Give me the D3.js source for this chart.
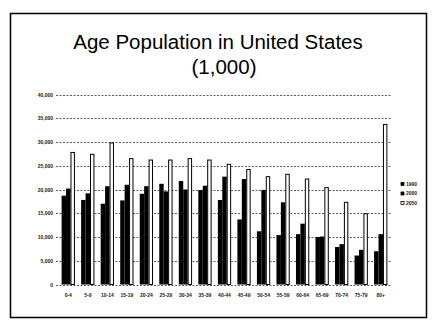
<!DOCTYPE html>
<html>
<head>
<meta charset="utf-8">
<script src="https://cdn.jsdelivr.net/npm/d3@7"></script>
<style>
  html, body { margin: 0; padding: 0; background: #fff; }
  svg { display: block; }
</style>
</head>
<body>
<svg id="chart" width="437" height="330"></svg>
<script>
// Age groups on the x axis
const ageGroups = ["0-4","5-9","10-14","15-19","20-24","25-29","30-34","35-39","40-44",
                   "45-49","50-54","55-59","60-64","65-69","70-74","75-79","80+"];
// Population by age group, in thousands
const pop1990 = [18700,17800,17000,17700,19100,21200,21800,19900,17800,13700,11200,10400,10600,10000,7900,6100,7000];
const pop2000 = [20200,19200,20700,21000,20700,19600,20000,20800,22700,22200,19900,17300,12800,10100,8500,7300,10600];
const pop2050 = [27800,27400,29800,26500,26200,26200,26500,26200,25300,24200,22700,23200,22200,20400,17300,14900,33700];
const seriesNames = ["1990","2000","2050"];
const yTicks = [0,5000,10000,15000,20000,25000,30000,35000,40000];
const titleLines = ["Age Population in United States", "(1,000)"];

const seriesValues = [pop1990, pop2000, pop2050];
const fills = ["#000","#000","#fff"];

const svg = d3.select("#chart");

// frame around the chart
svg.append("rect")
  .attr("x", 10.5).attr("y", 13.5).attr("width", 416).attr("height", 304)
  .attr("fill", "#fff").attr("stroke", "#000").attr("stroke-width", 1.5);

// two-line title; first line sized to span a fixed width
const titleFont = "'Liberation Sans', Arial, sans-serif";
const title1 = svg.append("text")
  .attr("x", 218).attr("y", 49)
  .attr("text-anchor", "middle")
  .attr("font-family", titleFont)
  .attr("font-size", 20)
  .attr("fill", "#000")
  .text(titleLines[0]);
const tw = title1.node().getComputedTextLength();
const titleSize = Math.min(20.5, 20 * 328 / tw);
title1.attr("font-size", titleSize);
svg.append("text")
  .attr("x", 224).attr("y", 73.5)
  .attr("text-anchor", "middle")
  .attr("font-family", titleFont)
  .attr("font-size", titleSize)
  .attr("fill", "#000")
  .text(titleLines[1]);

const x0 = d3.scaleBand().domain(ageGroups).range([58.5, 390.5]).paddingInner(0.32).paddingOuter(0.16);
const x1 = d3.scaleBand().domain(seriesNames).range([0, x0.bandwidth()]);
const y = d3.scaleLinear().domain([0, 40000]).range([284.5, 94.5]);

// gridlines
svg.append("g")
  .selectAll("line")
  .data(yTicks)
  .join("line")
  .attr("x1", 56).attr("x2", 391)
  .attr("y1", d => Math.round(y(d)) + 0.5).attr("y2", d => Math.round(y(d)) + 0.5)
  .attr("stroke", "#333").attr("stroke-width", 0.8)
  .attr("stroke-dasharray", "2,1.5");

// y axis labels
const yAxis = d3.axisLeft(y).tickValues(yTicks).tickFormat(d3.format(",")).tickSize(0).tickPadding(0);
const ya = svg.append("g").attr("transform", "translate(53,0)").call(yAxis);
ya.select(".domain").remove();
ya.selectAll("text").attr("font-family", "Liberation Sans, Arial, sans-serif")
  .attr("font-size", 5).attr("font-weight", "bold").attr("fill", "#222");

// bars
const groups = svg.append("g")
  .selectAll("g")
  .data(ageGroups.map((a, i) => ({ age: a, vals: seriesValues.map((s, k) => ({ name: seriesNames[k], k, v: s[i] })) })))
  .join("g")
  .attr("transform", d => `translate(${x0(d.age)},0)`);

groups.selectAll("rect")
  .data(d => d.vals)
  .join("rect")
  .attr("x", d => x1(d.name) + (d.k === 2 ? 0.5 : 0))
  .attr("width", d => x1.bandwidth() - (d.k === 2 ? 1 : 0))
  .attr("y", d => y(d.v))
  .attr("height", d => y(0) - y(d.v))
  .attr("fill", d => fills[d.k])
  .attr("stroke", d => d.k === 2 ? "#000" : "none")
  .attr("stroke-width", 1);

// x axis labels
const xAxis = d3.axisBottom(x0).tickSize(0).tickPadding(0);
const xa = svg.append("g").attr("transform", "translate(0,293)").call(xAxis);
xa.select(".domain").remove();
xa.selectAll("text").attr("font-family", "Liberation Sans, Arial, sans-serif")
  .attr("font-size", 5).attr("font-weight", "bold").attr("fill", "#222");

// legend
const legend = svg.append("g").attr("transform", "translate(401,184)");
const li = legend.selectAll("g").data(seriesNames).join("g")
  .attr("transform", (d, i) => `translate(0,${i * 9.5})`);
li.append("rect").attr("x", 0).attr("y", -1.5).attr("width", 3).attr("height", 3)
  .attr("fill", (d, i) => i === 2 ? "#fff" : "#000")
  .attr("stroke", "#000").attr("stroke-width", 0.8);
li.append("text").attr("x", 5).attr("y", 1.8)
  .attr("font-family", "Liberation Sans, Arial, sans-serif")
  .attr("font-size", 5).attr("font-weight", "bold").attr("fill", "#222")
  .text(d => d);
</script>
</body>
</html>
